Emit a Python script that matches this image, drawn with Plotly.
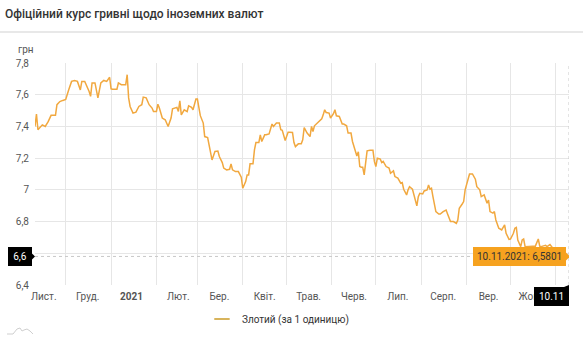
import plotly.graph_objects as go

# ---------------- data ----------------
dates = [
    "2020-11-10", "2020-11-11", "2020-11-12", "2020-11-15", "2020-11-17", "2020-11-19", "2020-11-21",
    "2020-11-24", "2020-11-25", "2020-11-27", "2020-11-29", "2020-12-01", "2020-12-03", "2020-12-05",
    "2020-12-07", "2020-12-09", "2020-12-11", "2020-12-12", "2020-12-14", "2020-12-16", "2020-12-17",
    "2020-12-18", "2020-12-19", "2020-12-21", "2020-12-22", "2020-12-23", "2020-12-25", "2020-12-27",
    "2020-12-29", "2020-12-31", "2021-01-01", "2021-01-02", "2021-01-05", "2021-01-06", "2021-01-08",
    "2021-01-11", "2021-01-12", "2021-01-13", "2021-01-14", "2021-01-16", "2021-01-18", "2021-01-20",
    "2021-01-22", "2021-01-23", "2021-01-25", "2021-01-27", "2021-01-29", "2021-01-30", "2021-02-01",
    "2021-02-02", "2021-02-03", "2021-02-05", "2021-02-07", "2021-02-09", "2021-02-11", "2021-02-12",
    "2021-02-15", "2021-02-16", "2021-02-17", "2021-02-18", "2021-02-20", "2021-02-22", "2021-02-23",
    "2021-02-25", "2021-02-26", "2021-02-28", "2021-03-01", "2021-03-03", "2021-03-05", "2021-03-06",
    "2021-03-08", "2021-03-10", "2021-03-11", "2021-03-13", "2021-03-15", "2021-03-16", "2021-03-18",
    "2021-03-19", "2021-03-21", "2021-03-23", "2021-03-24", "2021-03-25", "2021-03-27", "2021-03-29",
    "2021-03-30", "2021-03-31", "2021-04-01", "2021-04-03", "2021-04-04", "2021-04-05", "2021-04-06",
    "2021-04-08", "2021-04-09", "2021-04-10", "2021-04-12", "2021-04-13", "2021-04-14", "2021-04-16",
    "2021-04-17", "2021-04-19", "2021-04-21", "2021-04-22", "2021-04-24", "2021-04-26", "2021-04-27",
    "2021-04-28", "2021-04-30", "2021-05-02", "2021-05-03", "2021-05-05", "2021-05-06", "2021-05-07",
    "2021-05-09", "2021-05-11", "2021-05-12", "2021-05-13", "2021-05-15", "2021-05-17", "2021-05-18",
    "2021-05-19", "2021-05-20", "2021-05-22", "2021-05-23", "2021-05-25", "2021-05-26", "2021-05-27",
    "2021-05-28", "2021-05-30", "2021-05-31", "2021-06-02", "2021-06-03", "2021-06-04", "2021-06-06",
    "2021-06-08", "2021-06-09", "2021-06-11", "2021-06-12", "2021-06-14", "2021-06-15", "2021-06-17",
    "2021-06-18", "2021-06-19", "2021-06-20", "2021-06-21", "2021-06-22", "2021-06-23", "2021-06-24",
    "2021-06-25", "2021-06-27", "2021-06-29", "2021-06-30", "2021-07-01", "2021-07-02", "2021-07-04",
    "2021-07-05", "2021-07-06", "2021-07-08", "2021-07-10", "2021-07-11", "2021-07-13", "2021-07-14",
    "2021-07-16", "2021-07-18", "2021-07-19", "2021-07-20", "2021-07-22", "2021-07-23", "2021-07-24",
    "2021-07-26", "2021-07-27", "2021-07-28", "2021-07-29", "2021-07-30", "2021-07-31", "2021-08-02",
    "2021-08-03", "2021-08-05", "2021-08-06", "2021-08-07", "2021-08-08", "2021-08-09", "2021-08-11",
    "2021-08-13", "2021-08-14", "2021-08-16", "2021-08-18", "2021-08-19", "2021-08-21", "2021-08-23",
    "2021-08-25", "2021-08-26", "2021-08-27", "2021-08-29", "2021-08-30", "2021-08-31", "2021-09-02",
    "2021-09-03", "2021-09-05", "2021-09-07", "2021-09-08", "2021-09-10", "2021-09-11", "2021-09-13",
    "2021-09-15", "2021-09-16", "2021-09-17", "2021-09-19", "2021-09-20", "2021-09-21", "2021-09-23",
    "2021-09-25", "2021-09-26", "2021-09-27", "2021-09-28", "2021-09-30", "2021-10-01", "2021-10-03",
    "2021-10-04", "2021-10-05", "2021-10-06", "2021-10-08", "2021-10-09", "2021-10-10", "2021-10-11",
    "2021-10-13", "2021-10-16", "2021-10-18", "2021-10-19", "2021-10-20", "2021-10-21", "2021-10-22",
    "2021-10-23", "2021-10-25", "2021-10-26", "2021-10-28", "2021-10-31", "2021-11-03", "2021-11-06",
    "2021-11-08", "2021-11-10",
]

pln_rate = [
    7.400, 7.478, 7.379, 7.410, 7.400, 7.430, 7.470,
    7.470, 7.537, 7.557, 7.564, 7.570, 7.630, 7.684,
    7.690, 7.684, 7.630, 7.684, 7.684, 7.646, 7.620,
    7.590, 7.674, 7.674, 7.630, 7.580, 7.674, 7.690,
    7.684, 7.710, 7.637, 7.635, 7.635, 7.674, 7.663,
    7.663, 7.726, 7.580, 7.526, 7.484, 7.490, 7.526,
    7.537, 7.585, 7.580, 7.537, 7.516, 7.494, 7.494,
    7.540, 7.516, 7.453, 7.442, 7.400, 7.453, 7.511,
    7.520, 7.494, 7.562, 7.473, 7.505, 7.494, 7.530,
    7.520, 7.505, 7.573, 7.573, 7.468, 7.421, 7.336,
    7.330, 7.242, 7.189, 7.242, 7.245, 7.210, 7.172,
    7.137, 7.126, 7.130, 7.164, 7.126, 7.115, 7.115,
    7.094, 7.080, 7.010, 7.052, 7.094, 7.094, 7.164,
    7.164, 7.252, 7.298, 7.298, 7.347, 7.305, 7.347,
    7.347, 7.353, 7.415, 7.400, 7.421, 7.421, 7.379,
    7.376, 7.311, 7.364, 7.364, 7.362, 7.298, 7.273,
    7.290, 7.290, 7.316, 7.393, 7.358, 7.336, 7.400,
    7.368, 7.404, 7.421, 7.427, 7.448, 7.473, 7.505,
    7.488, 7.484, 7.453, 7.480, 7.505, 7.467, 7.463,
    7.415, 7.415, 7.404, 7.358, 7.358, 7.305, 7.252,
    7.214, 7.240, 7.147, 7.143, 7.143, 7.094, 7.168,
    7.246, 7.249, 7.249, 7.178, 7.147, 7.200, 7.194,
    7.172, 7.180, 7.147, 7.137, 7.105, 7.120, 7.084,
    7.074, 7.042, 7.046, 7.004, 6.968, 7.000, 7.020,
    7.004, 6.968, 6.936, 6.899, 6.957, 6.978, 6.974,
    6.993, 7.000, 7.031, 7.004, 7.010, 6.957, 6.863,
    6.848, 6.848, 6.863, 6.873, 6.848, 6.800, 6.800,
    6.789, 6.810, 6.884, 6.911, 6.926, 7.000, 7.080,
    7.100, 7.100, 7.067, 7.020, 7.000, 6.957, 6.968,
    6.916, 6.936, 6.863, 6.853, 6.863, 6.810, 6.758,
    6.747, 6.763, 6.779, 6.726, 6.688, 6.690, 6.726,
    6.758, 6.763, 6.684, 6.642, 6.684, 6.690, 6.642,
    6.645, 6.645, 6.645, 6.663, 6.690, 6.645, 6.642,
    6.645, 6.650, 6.642, 6.655, 6.620, 6.610, 6.600,
    6.590, 6.5801,
]

series_name = "Злотий (за 1 одиницю)"
title_text = "Офіційний курс гривні щодо іноземних валют"
y_unit = "грн"

# the 6,6 tick is shown by the crosshair label box (as in the original)
y_tickvals = [6.4, 6.6, 6.8, 7.0, 7.2, 7.4, 7.6, 7.8]
y_ticktext = ["6,4", "", "6,8", "7", "7,2", "7,4", "7,6", "7,8"]

x_label_pos = ["2020-11-16", "2020-12-16", "2021-01-15", "2021-02-16", "2021-03-16", "2021-04-16",
               "2021-05-16", "2021-06-16", "2021-07-16", "2021-08-16", "2021-09-16", "2021-10-16"]
x_label_text = ["Лист.", "Груд.", "<b>2021</b>", "Лют.", "Бер.", "Квіт.",
                "Трав.", "Черв.", "Лип.", "Серп.", "Вер.", "Жовт."]
month_starts = ["2020-12-01", "2021-01-01", "2021-02-01", "2021-03-01", "2021-04-01", "2021-05-01",
                "2021-06-01", "2021-07-01", "2021-08-01", "2021-09-01", "2021-10-01", "2021-11-01"]

# ---------------- styles ----------------
LINE_COLOR = "#f1a83f"
LEGEND_COLOR = "#d8b45c"
TIP_COLOR = "#f6a21f"
GRID = "#e6e6e6"
FONT = "Roboto, 'Open Sans', sans-serif"

last_date = dates[-1]
last_val = pln_rate[-1]
d_y, d_m, d_d = last_date.split("-")
tip_text = f"{d_d}.{d_m}.{d_y}: " + f"{last_val:.4f}".replace(".", ",")
cross_y_text = f"{last_val:.1f}".replace(".", ",")
cross_x_text = f"{d_d}.{d_m}"

fig = go.Figure()
fig.add_trace(go.Scatter(
    x=dates, y=pln_rate, mode="lines", name=series_name,
    line=dict(color=LINE_COLOR, width=1.5), showlegend=False,
    hoverinfo="skip",
))
# legend entry (short line symbol like the original)
fig.add_trace(go.Scatter(
    x=[None], y=[None], mode="markers", name=series_name,
    marker=dict(symbol="line-ew-open", size=11, color=LEGEND_COLOR,
                line=dict(color=LEGEND_COLOR, width=2)),
    showlegend=True,
))

fig.update_layout(
    width=583, height=350,
    margin=dict(l=35, r=14, t=63, b=65),
    paper_bgcolor="white", plot_bgcolor="white",
    font=dict(family=FONT, size=10, color="#666666"),
    title=dict(text=title_text, x=5 / 583, xref="container", xanchor="left",
               y=1 - 14 / 350, yref="container", yanchor="middle",
               font=dict(family=FONT, size=12, color="#333333", weight=500)),
    showlegend=True,
    legend=dict(orientation="h", x=0.455, xanchor="center", y=-0.153, yanchor="middle",
                font=dict(family=FONT, size=10, color="#333333"), itemwidth=30,
                bgcolor="rgba(0,0,0,0)"),
    hovermode=False,
)

fig.update_xaxes(
    type="date", range=[dates[0], last_date],
    tickmode="array", tickvals=x_label_pos, ticktext=x_label_text,
    showgrid=False, ticks="", showline=False, zeroline=False,
    tickfont=dict(family=FONT, size=10, color="#555555"),
    ticklabelstandoff=4,
    minor=dict(tickmode="array", tickvals=month_starts, showgrid=True,
               gridcolor=GRID, gridwidth=1, ticks=""),
)
fig.update_yaxes(
    range=[6.4, 7.8], tickmode="array", tickvals=y_tickvals, ticktext=y_ticktext,
    showgrid=True, gridcolor=GRID, gridwidth=1, zeroline=False, showline=False,
    ticks="", tickfont=dict(family=FONT, size=10, color="#555555"),
    ticklabelstandoff=5,
)

shapes = []
# title separator
shapes.append(dict(type="line", xref="paper", yref="paper",
                   x0=-35 / 534, x1=548 / 534, y0=(285 - 32) / 222, y1=(285 - 32) / 222,
                   line=dict(color="#e8e8e8", width=2)))
# crosshairs
shapes.append(dict(type="line", xref="paper", yref="y", x0=0, x1=1, y0=last_val, y1=last_val,
                   line=dict(color="#c8c8c8", width=1, dash="dot")))
shapes.append(dict(type="line", xref="x", yref="paper", x0=last_date, x1=last_date, y0=0, y1=1,
                   line=dict(color="#c8c8c8", width=1, dash="dot")))
# tooltip pointer
shapes.append(dict(type="path", xref="x", yref="y", xsizemode="pixel", ysizemode="pixel",
                   xanchor=last_date, yanchor=last_val,
                   path="M -4,5 L 1,0 L -4,-5 Z", fillcolor=TIP_COLOR, line=dict(width=0)))
# y crosshair label pointer
shapes.append(dict(type="path", xref="paper", yref="y", xsizemode="pixel", ysizemode="pixel",
                   xanchor=0, yanchor=last_val,
                   path="M -4,4 L 0,0 L -4,-4 Z", fillcolor="black", line=dict(width=0)))
# x crosshair label pointer
shapes.append(dict(type="path", xref="x", yref="paper", xsizemode="pixel", ysizemode="pixel",
                   xanchor=last_date, yanchor=0,
                   path="M -5,-2 L 0,0 L 0,-5 Z", fillcolor="black", line=dict(width=0)))
# small navigator icon bottom-left
shapes.append(dict(type="path", xref="paper", yref="paper", xsizemode="pixel", ysizemode="pixel",
                   xanchor=0, yanchor=0,
                   path="M -28,-49 L -22,-49 L -18,-44 L -15,-43 L -13,-46 L -11,-45 L -8,-44 L -5,-46 L -2,-49",
                   line=dict(color="#cfcfcf", width=1)))
fig.update_layout(shapes=shapes)

annotations = [
    dict(text=y_unit, xref="paper", yref="paper", x=-19 / 534, y=(285 - 50) / 222,
         xanchor="left", yanchor="middle", showarrow=False,
         font=dict(family=FONT, size=10, color="#555555")),
    dict(text=tip_text, xref="x", yref="y", x=last_date, y=last_val,
         xanchor="right", yanchor="middle", xshift=-3, showarrow=False,
         bgcolor=TIP_COLOR, bordercolor=TIP_COLOR, borderwidth=1, borderpad=3,
         font=dict(family=FONT, size=10, color="#333333")),
    dict(text=cross_y_text, xref="paper", yref="y", x=0, y=last_val,
         xanchor="right", yanchor="middle", xshift=-3, showarrow=False,
         bgcolor="black", bordercolor="black", borderwidth=1, borderpad=3, width=16,
         font=dict(family=FONT, size=10, color="white")),
    dict(text=cross_x_text, xref="x", yref="paper", x=last_date, y=0,
         xanchor="right", yanchor="top", yshift=-2, showarrow=False,
         bgcolor="black", bordercolor="black", borderwidth=1, borderpad=3, width=27,
         font=dict(family=FONT, size=10, color="white")),
]
fig.update_layout(annotations=annotations)

fig.write_html("out.html")
